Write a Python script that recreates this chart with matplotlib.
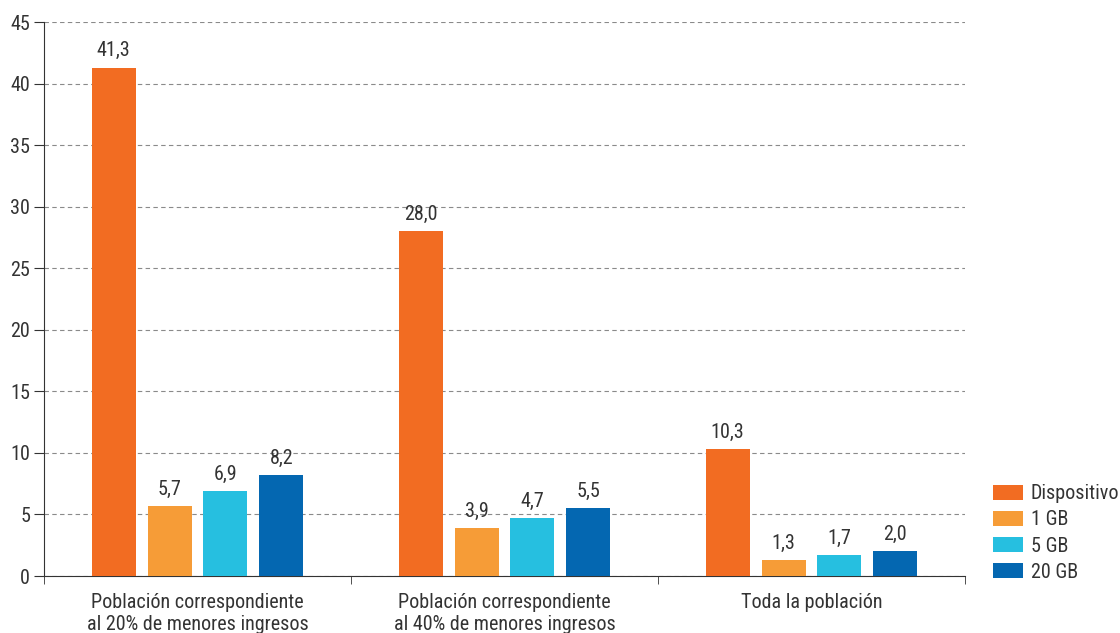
import matplotlib
matplotlib.use("Agg")
from matplotlib import pyplot as plt
from matplotlib import font_manager
import numpy as np

available = {f.name for f in font_manager.fontManager.ttflist}
fam = "DejaVu Sans"
for cand in ["Roboto Condensed", "Liberation Sans Narrow", "Roboto"]:
    if cand in available:
        fam = cand
        break
plt.rcParams['font.family'] = [fam, 'DejaVu Sans']
if fam == "Roboto":
    plt.rcParams['font.stretch'] = 'condensed'

groups = ["Población correspondiente\nal 20% de menores ingresos",
          "Población correspondiente\nal 40% de menores ingresos",
          "Toda la población"]
series = ["Dispositivo", "1 GB", "5 GB", "20 GB"]
dispositivo = [41.3, 28.0, 10.3]
gb1 = [5.7, 3.9, 1.3]
gb5 = [6.9, 4.7, 1.7]
gb20 = [8.2, 5.5, 2.0]
colors = ["#F26C22", "#F69C37", "#26BFE0", "#0467B1"]

values = [dispositivo, gb1, gb5, gb20]
txt = "#333333"
fs = 14.5

fig = plt.figure(figsize=(11.2, 6.33), dpi=100)
ax = fig.add_axes([0.0393, 0.09, 0.8223, 0.8752])

centers = np.arange(len(groups)) + 0.5
width = 0.143
step = 0.182
for i, (name, vals, c) in enumerate(zip(series, values, colors)):
    x = centers + (i - 1.5) * step
    bars = ax.bar(x, vals, width, color=c, label=name, zorder=3)
    for b, v in zip(bars, vals):
        ax.text(b.get_x() + b.get_width() / 2, v + 0.6, f"{v:.1f}".replace(".", ","),
                ha="center", va="bottom", fontsize=fs, color=txt)

ax.set_xlim(0, 3)
ax.set_ylim(0, 45)
ax.set_yticks(range(0, 46, 5))
ax.yaxis.grid(True, linestyle=(0, (4, 3)), color="#8a8a8a", linewidth=0.8, zorder=0)
ax.set_xticks(centers)
ax.set_xticklabels(groups, fontsize=fs, color=txt, linespacing=1.2)
ax.set_xticks([0, 1, 2, 3], minor=True)
ax.tick_params(axis="x", which="major", length=0, pad=12)
ax.tick_params(axis="x", which="minor", length=6, color="#333333", direction="out")
ax.tick_params(axis="y", labelsize=fs, labelcolor=txt, length=7, color="#333333", pad=3)
for s in ["top", "right"]:
    ax.spines[s].set_visible(False)
ax.spines["left"].set_color("#333333")
ax.spines["bottom"].set_color("#333333")

leg = ax.legend(loc="lower left", bbox_to_anchor=(1.03, -0.01), frameon=False,
                fontsize=fs, handlelength=1.5, handleheight=0.8,
                handletextpad=0.4, labelspacing=0.35, borderaxespad=0,
                borderpad=0)
for t in leg.get_texts():
    t.set_color(txt)

fig.savefig("out.png", dpi=100)
